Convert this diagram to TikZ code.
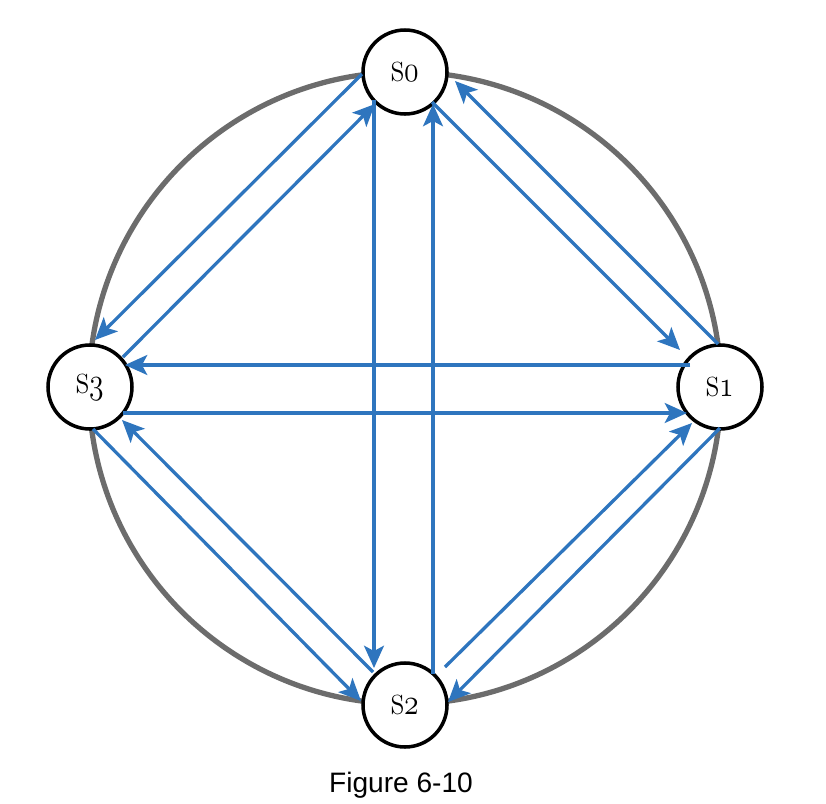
\documentclass[tikz,border=0pt]{standalone}
\usepackage{graphicx}
\usepackage{fontspec}
\newfontfamily\capfont{Liberation Sans}
\usetikzlibrary{arrows.meta}
\newcommand{\osnum}[1]{{\usefont{OML}{cmm}{m}{it}#1}}
\newcommand{\statelabel}[1]{\scalebox{1.02}[1.25]{\fontsize{30}{34}\selectfont s\osnum{#1}}}
\definecolor{arrblue}{RGB}{46,117,190}
\definecolor{ringgray}{RGB}{108,108,108}
\begin{document}
\begin{tikzpicture}[x=0.03cm,y=-0.03cm,
  state/.style={circle, draw=black, line width=3pt, fill=white, minimum size=2.52cm, inner sep=0pt},
  flow/.style={draw=arrblue, line width=2.8pt, -{Stealth[length=19pt,width=17pt,inset=4.5pt]}},
  ring/.style={draw=ringgray, line width=4.5pt}]
\useasboundingbox (0,0) rectangle (826,804);
\draw[ring] (405,388) circle[radius=316];
\node[state] (s0) at (405,72) {\statelabel{0}};
\node[state] (s1) at (720,387) {\statelabel{1}};
\node[state] (s2) at (405,705) {\statelabel{2}};
\node[state] (s3) at (90,387) {\statelabel{3}};
% s0 <-> s3
\draw[flow] ([shift={(-43,2)}]s0.center) -- ([shift={(5,-47)}]s3.center);
\draw[flow] ([shift={(33,-30)}]s3.center) -- ([shift={(-30,32)}]s0.center);
% s0 <-> s2
\draw[flow] ([shift={(-31,28)}]s0.center) -- ([shift={(-31,-37)}]s2.center);
\draw[flow] ([shift={(28,-31)}]s2.center) -- ([shift={(28,32)}]s0.center);
% s0 <-> s1
\draw[flow] ([shift={(27,30)}]s0.center) -- ([shift={(-40,-37)}]s1.center);
\draw[flow] ([shift={(-2,-43)}]s1.center) -- ([shift={(50,9)}]s0.center);
% s1 <-> s3
\draw[flow] ([shift={(-30,-22)}]s1.center) -- ([shift={(35,-22)}]s3.center);
\draw[flow] ([shift={(33,26)}]s3.center) -- ([shift={(-33,26)}]s1.center);
% s3 <-> s2
\draw[flow] ([shift={(3,42)}]s3.center) -- ([shift={(-44,-4)}]s2.center);
\draw[flow] ([shift={(-32,-33)}]s2.center) -- ([shift={(32,33)}]s3.center);
% s2 <-> s1
\draw[flow] ([shift={(40,-38)}]s2.center) -- ([shift={(-28,36)}]s1.center);
\draw[flow] ([shift={(0,41)}]s1.center) -- ([shift={(43,-3)}]s2.center);
\node[font=\capfont\fontsize{24}{28}\selectfont, anchor=base] (cap) at (401,792) {Figure 6-10};
\end{tikzpicture}
\end{document}
